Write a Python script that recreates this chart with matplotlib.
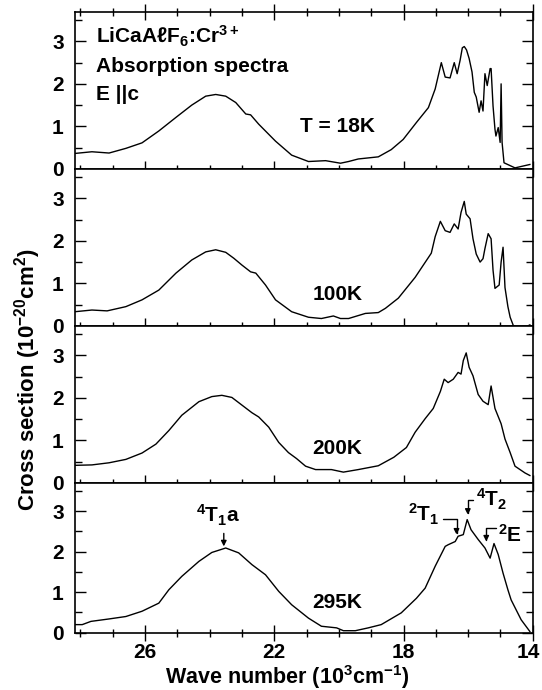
import numpy as np
import matplotlib
matplotlib.use('Agg')
import matplotlib.pyplot as plt
import matplotlib.transforms as mtransforms
from matplotlib.ticker import MultipleLocator, FixedLocator

plt.rcParams['font.family'] = ['Liberation Sans', 'DejaVu Sans']
plt.rcParams['font.weight'] = 'bold'
plt.rcParams['axes.labelweight'] = 'bold'
plt.rcParams['mathtext.default'] = 'regular'

# wave number (10^3 cm^-1) and cross section (10^-20 cm^2)
wn_18K = [28.17, 27.64, 27.11, 26.59, 26.09, 25.57, 25.04, 24.55, 24.12, 23.81, 23.5, 23.19,
          22.88, 22.73, 22.48, 21.96, 21.46, 20.94, 20.41, 19.95, 19.7, 19.4, 18.78, 18.38,
          18.01, 17.6, 17.23, 17.02, 16.83, 16.71, 16.56, 16.43, 16.34, 16.25, 16.18, 16.12,
          16.05, 15.97, 15.88, 15.81, 15.75, 15.66, 15.6, 15.54, 15.48, 15.41, 15.32, 15.29,
          15.23, 15.17, 15.14, 15.07, 15.01, 14.98, 14.95, 14.89, 14.55, 14.09]
cs_18K = [0.36, 0.40, 0.37, 0.48, 0.61, 0.89, 1.21, 1.5, 1.71, 1.75, 1.71, 1.56,
          1.29, 1.27, 1.05, 0.65, 0.32, 0.17, 0.19, 0.13, 0.17, 0.23, 0.28, 0.45,
          0.69, 1.09, 1.44, 1.88, 2.5, 2.16, 2.14, 2.5, 2.24, 2.55, 2.85, 2.88,
          2.8, 2.6, 2.28, 1.8, 1.69, 1.33, 1.6, 1.36, 2.24, 1.96, 2.36, 2.36,
          1.48, 0.93, 0.77, 0.97, 0.62, 2.0, 0.62, 0.14, 0.02, 0.1]

wn_100K = [28.17, 27.64, 27.17, 26.59, 26.09, 25.57, 25.04, 24.55, 24.12, 23.81, 23.5, 23.25,
           23.0, 22.73, 22.57, 22.27, 21.96, 21.46, 20.94, 20.54, 20.17, 19.95, 19.7, 19.18,
           18.78, 18.56, 18.16, 17.64, 17.14, 17.02, 16.86, 16.71, 16.56, 16.43, 16.31, 16.22,
           16.12, 16.06, 15.94, 15.85, 15.75, 15.63, 15.54, 15.48, 15.38, 15.29, 15.23, 15.17,
           15.04, 14.98, 14.92, 14.86, 14.77, 14.7, 14.6, 14.46, 14.3, 14.09]
cs_100K = [0.33, 0.37, 0.35, 0.45, 0.61, 0.84, 1.24, 1.55, 1.74, 1.79, 1.73, 1.59,
           1.43, 1.27, 1.24, 0.96, 0.61, 0.33, 0.2, 0.17, 0.23, 0.17, 0.17, 0.29,
           0.31, 0.41, 0.65, 1.14, 1.71, 2.1, 2.46, 2.24, 2.2, 2.4, 2.28, 2.67,
           2.93, 2.63, 2.52, 2.05, 1.69, 1.5, 1.58, 1.82, 2.17, 2.05, 1.31, 0.88,
           0.96, 1.5, 1.85, 0.9, 0.45, 0.2, 0.0, -0.06, -0.06, 0.02]

wn_200K = [28.17, 27.64, 27.11, 26.59, 26.09, 25.66, 25.26, 24.86, 24.33, 23.93, 23.62, 23.31,
           23.0, 22.69, 22.48, 22.17, 21.86, 21.56, 21.31, 21.03, 20.72, 20.23, 19.86, 19.4,
           18.78, 18.3, 17.91, 17.64, 17.33, 17.08, 16.86, 16.74, 16.62, 16.46, 16.31, 16.22,
           16.15, 16.06, 15.97, 15.85, 15.69, 15.54, 15.38, 15.29, 15.17, 14.98, 14.86, 14.7,
           14.55, 14.24, 14.09]
cs_200K = [0.41, 0.42, 0.47, 0.55, 0.7, 0.91, 1.23, 1.59, 1.91, 2.03, 2.06, 2.01,
           1.83, 1.65, 1.55, 1.31, 0.95, 0.71, 0.57, 0.39, 0.31, 0.31, 0.25, 0.31,
           0.4, 0.6, 0.83, 1.19, 1.51, 1.75, 2.15, 2.44, 2.36, 2.44, 2.6, 2.56,
           2.88, 3.06, 2.72, 2.52, 2.08, 1.92, 1.84, 2.28, 1.75, 1.39, 1.03, 0.71,
           0.39, 0.23, 0.17]

wn_295K = [28.17, 27.94, 27.67, 27.11, 26.59, 26.09, 25.57, 25.26, 24.86, 24.33, 23.93, 23.5,
           23.1, 22.69, 22.27, 21.86, 21.46, 20.94, 20.54, 20.07, 19.86, 19.49, 19.09, 18.69,
           18.07, 17.6, 17.33, 17.02, 16.71, 16.62, 16.4, 16.31, 16.15, 16.03, 15.91, 15.69,
           15.48, 15.32, 15.2, 15.07, 14.92, 14.77, 14.67, 14.36, 14.09]
cs_295K = [0.2, 0.2, 0.28, 0.34, 0.4, 0.53, 0.73, 1.06, 1.39, 1.76, 1.98, 2.09,
           1.97, 1.68, 1.43, 1.02, 0.69, 0.36, 0.16, 0.12, 0.05, 0.05, 0.12, 0.2,
           0.49, 0.85, 1.1, 1.64, 2.13, 2.17, 2.25, 2.38, 2.42, 2.79, 2.54, 2.3,
           2.09, 1.84, 2.2, 1.93, 1.47, 1.06, 0.81, 0.32, 0.03]

temp_labels = ['T = 18K', '100K', '200K', '295K']
temp_label_y = [0.86, 0.61, 0.67, 0.61]

spectra = [(wn_18K, cs_18K), (wn_100K, cs_100K), (wn_200K, cs_200K), (wn_295K, cs_295K)]

fig = plt.figure(figsize=(5.42, 6.9), dpi=100)
gs = fig.add_gridspec(4, 1, height_ratios=[157, 157, 157, 150], hspace=0,
                      left=0.138, right=0.983, top=0.983, bottom=0.083)
axes = [fig.add_subplot(gs[i]) for i in range(4)]

for i, ax in enumerate(axes):
    wn, cs = spectra[i]
    ax.plot(wn, cs, color='k', lw=1.0)
    ax.set_xlim(28.17, 14)
    ax.set_ylim(0, 3.7)
    ax.xaxis.set_major_locator(FixedLocator([26, 22, 18, 14]))
    ax.xaxis.set_minor_locator(MultipleLocator(1))
    ax.yaxis.set_major_locator(FixedLocator([0, 1, 2, 3]))
    ax.yaxis.set_minor_locator(MultipleLocator(0.5))
    ax.tick_params(axis='x', which='major', direction='inout', length=12, width=1, pad=1.5,
                   labelsize=15, top=(i == 0))
    ax.tick_params(axis='x', which='minor', direction='inout', length=6, width=1, top=(i == 0))
    ax.tick_params(axis='y', which='major', direction='in', length=8, width=1, pad=8,
                   labelsize=15, right=True)
    ax.tick_params(axis='y', which='minor', direction='in', length=5, width=1, right=True)
    for s in ax.spines.values():
        s.set_linewidth(1.2)
    if i < 3:
        ax.tick_params(axis='x', which='both', labelbottom=False)
    ax.text(20.05, temp_label_y[i], temp_labels[i], ha='center', va='baseline',
            fontsize=15, fontweight='bold')

ax1 = axes[0]
ax1.text(27.51, 2.95, r'LiCaAℓF$_{6}$:Cr$^{3+}$', fontsize=15, fontweight='bold', va='baseline')
ax1.text(27.51, 2.29, 'Absorption spectra', fontsize=15, fontweight='bold', va='baseline')
ax1.text(27.51, 1.62, 'E ||c', fontsize=15, fontweight='bold', va='baseline')

ax4 = axes[3]
# keep the "14" at the right edge inside the canvas
fig.canvas.draw()
last = ax4.get_xticklabels()[-1]
last.set_horizontalalignment('right')
last.set_transform(last.get_transform() + mtransforms.ScaledTranslation(7 / 100, 0, fig.dpi_scale_trans))

arrow = dict(arrowstyle='-|>', color='k', lw=1, mutation_scale=8, shrinkA=0, shrinkB=0)
elbow = dict(arrow, connectionstyle='angle,angleA=0,angleB=90,rad=0')
ax4.text(23.75, 2.72, r'$^{4}$T$_{1}$a', ha='center', va='baseline', fontsize=15, fontweight='bold')
ax4.annotate('', xy=(23.56, 2.13), xytext=(23.56, 2.45), arrowprops=arrow)
ax4.text(17.36, 2.75, r'$^{2}$T$_{1}$', ha='center', va='baseline', fontsize=15, fontweight='bold')
ax4.annotate('', xy=(16.36, 2.42), xytext=(16.77, 2.81), arrowprops=elbow)
ax4.text(15.26, 3.12, r'$^{4}$T$_{2}$', ha='center', va='baseline', fontsize=15, fontweight='bold')
ax4.annotate('', xy=(16.01, 2.91), xytext=(15.85, 3.28), arrowprops=elbow)
ax4.text(14.7, 2.25, r'$^{2}$E', ha='center', va='baseline', fontsize=15, fontweight='bold')
ax4.annotate('', xy=(15.44, 2.25), xytext=(15.13, 2.59), arrowprops=elbow)

fig.text(0.05, 0.449, r'Cross section (10$^{-20}$cm$^{2}$)', rotation=90,
         ha='center', va='center', fontsize=16, fontweight='bold')
fig.text(0.53, 0.019, r'Wave number (10$^{3}$cm$^{-1}$)', ha='center', va='center',
         fontsize=15.5, fontweight='bold')

fig.savefig('out.png', dpi=100)
